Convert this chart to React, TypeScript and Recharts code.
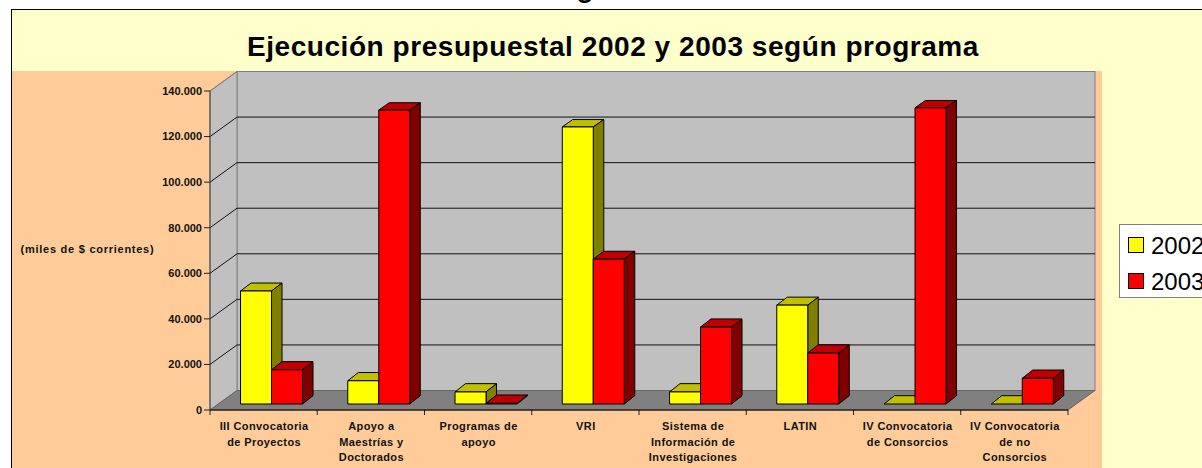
import React from 'react';
import { BarChart, Bar, XAxis, YAxis, CartesianGrid, Legend, usePlotArea } from 'recharts';

const categories = [
  'III Convocatoria de Proyectos',
  'Apoyo a Maestrías y Doctorados',
  'Programas de apoyo',
  'VRI',
  'Sistema de Información de Investigaciones',
  'LATIN',
  'IV Convocatoria de Consorcios',
  'IV Convocatoria de no Consorcios',
];
const categoryLines = [
  ['III Convocatoria', 'de Proyectos'],
  ['Apoyo a', 'Maestrías y', 'Doctorados'],
  ['Programas de', 'apoyo'],
  ['VRI'],
  ['Sistema de', 'Información de', 'Investigaciones'],
  ['LATIN'],
  ['IV Convocatoria', 'de Consorcios'],
  ['IV Convocatoria', 'de no', 'Consorcios'],
];
const series2002 = [49600, 10200, 5300, 121600, 5300, 43400, 0, 0];
const series2003 = [15000, 129000, 300, 63600, 33800, 22400, 130000, 11300];
const yTicks = [0, 20000, 40000, 60000, 80000, 100000, 120000, 140000];
const data = categories.map((name, i) => ({ name, a: series2002[i], b: series2003[i] }));

const FONT = '"Liberation Sans", Arial, sans-serif';
const WALL_DX = 27;
const WALL_DY = 19.5;
const BAR_OFF_X = 8;
const BAR_OFF_Y = 6;
const BAR_DX = 10.5;
const depthAt = (py: number) => 7.3 + (py - 100) / 300;
const SHADES: Record<string, { top: string; side: string }> = {
  '#FFFF00': { top: '#C0C000', side: '#808000' },
  '#FF0000': { top: '#C00000', side: '#800000' },
};

function Bar3D(props: any) {
  const { x, y, width, height, fill } = props;
  const l = x + BAR_OFF_X;
  const t = y - BAR_OFF_Y;
  const r = l + width;
  const b = t + height;
  const dt = depthAt(t);
  const db = depthAt(b);
  const s = SHADES[fill];
  const common = { stroke: '#000', strokeWidth: 1, strokeLinejoin: 'round' as const };
  return (
    <g>
      <polygon points={`${l},${t} ${l + BAR_DX},${t - dt} ${r + BAR_DX},${t - dt} ${r},${t}`} fill={s.top} {...common} />
      <polygon points={`${r},${t} ${r + BAR_DX},${t - dt} ${r + BAR_DX},${b - db} ${r},${b}`} fill={s.side} {...common} />
      <rect x={l} y={t} width={width} height={height} fill={fill} {...common} />
    </g>
  );
}

function Walls() {
  const p = usePlotArea();
  if (!p) return null;
  const { x, y, width, height } = p;
  const b = y + height;
  const r = x + width;
  return (
    <g>
      <rect x={x + WALL_DX} y={y - WALL_DY} width={width} height={height} fill="#C0C0C0" stroke="#808080" strokeWidth={1} />
      <polygon points={`${x},${b} ${x + WALL_DX},${b - WALL_DY} ${x + WALL_DX},${y - WALL_DY} ${x},${y}`} fill="#C0C0C0" stroke="#808080" strokeWidth={1} />
      <polygon points={`${x},${b} ${x + WALL_DX},${b - WALL_DY} ${r + WALL_DX},${b - WALL_DY} ${r},${b}`} fill="#808080" stroke="#666" strokeWidth={1} />
    </g>
  );
}

function Captions() {
  const p = usePlotArea();
  if (!p) return null;
  const band = p.width / categories.length;
  const b = p.y + p.height;
  return (
    <g>
      {[...categories, ''].map((_, i) => (
        <line key={i} x1={p.x + i * band} x2={p.x + i * band} y1={b} y2={b + 5} stroke="#222" strokeWidth={1} />
      ))}
      <text x={613} y={55.5} textAnchor="middle" fontFamily={FONT} fontWeight="bold" fontSize={28} letterSpacing={0.55} fill="#000">
        Ejecución presupuestal 2002 y 2003 según programa
      </text>
      <text x={87.5} y={253} textAnchor="middle" fontFamily={FONT} fontWeight="bold" fontSize={11} letterSpacing={0.74} fill="#111">
        (miles de $ corrientes)
      </text>
      <text x={585} y={-3} textAnchor="middle" fontFamily={FONT} fontWeight="bold" fontSize={28} fill="#000">
        g
      </text>
    </g>
  );
}

function GridLine(props: any) {
  const { x1, x2, y1, index } = props;
  if (y1 > 400) return null;
  const top = y1 < 100;
  const stroke = top ? '#808080' : '#111';
  return (
    <g key={index}>
      <polyline points={`${x1},${y1} ${x1 + WALL_DX},${y1 - WALL_DY} ${x2 + WALL_DX},${y1 - WALL_DY}`} fill="none" stroke={stroke} strokeWidth={1} />
    </g>
  );
}

function XTick(props: any) {
  const { x, payload, index } = props;
  const lines = categoryLines[payload.index ?? index] ?? [];
  return (
    <text textAnchor="middle" fontFamily={FONT} fontWeight="bold" fontSize={11} letterSpacing={0.4} fill="#111">
      {lines.map((l: string, i: number) => (
        <tspan key={i} x={x + 0.5} y={430 + i * 15.5}>{l}</tspan>
      ))}
    </text>
  );
}

function LegendBox(props: any) {
  const items = props.payload || [];
  return (
    <div style={{ width: 120, height: 74, boxSizing: 'border-box', background: '#fff', border: '1px solid #808080', position: 'relative', fontFamily: FONT, fontSize: 24, color: '#000', lineHeight: '24px' }}>
      {items.map((it: any, i: number) => (
        <div key={i} style={{ position: 'absolute', left: 8, top: 7.5 + i * 36.7, display: 'flex', alignItems: 'center' }}>
          <span style={{ display: 'block', width: 14, height: 14, background: it.color, border: '1px solid #000', marginRight: 7 }} />
          <span style={{ position: 'relative', top: 1 }}>{it.value}</span>
        </div>
      ))}
    </div>
  );
}

export default function App() {
  return (
    <div style={{ position: 'fixed', left: 0, top: 0, width: 1202, height: 468, overflow: 'hidden', background: '#fff' }}>
      <div style={{ position: 'absolute', left: 11, top: 9, width: 1191, height: 459, boxSizing: 'border-box', borderLeft: '1px solid #000', borderTop: '1px solid #000', background: '#FFFFCC' }} />
      <div style={{ position: 'absolute', left: 12, top: 71, width: 1090, height: 397, background: '#FFCC99' }} />
      <div style={{ position: 'absolute', left: 0, top: 0 }}>
        <BarChart
          width={1202}
          height={468}
          data={data}
          margin={{ top: 91, right: 134, bottom: 0, left: 0 }}
          barCategoryGap="21%"
          barGap={0}
          style={{ overflow: 'visible' }}
        >
          <Walls />
          <CartesianGrid vertical={false} horizontal={GridLine as any} {...({ zIndex: 50 } as any)} />
          <XAxis dataKey="name" height={58} interval={0} axisLine={{ stroke: '#000', strokeWidth: 1 }} tickLine={false} tick={XTick as any} />
          <YAxis
            width={210}
            domain={[0, 140000]}
            ticks={yTicks}
            interval={0}
            tickSize={6}
            tickMargin={2}
            axisLine={{ stroke: '#444', strokeWidth: 1 }}
            tickLine={{ stroke: '#222', strokeWidth: 1 }}
            tickFormatter={(v: number) => v.toLocaleString('de-DE')}
            tick={{ fontFamily: FONT, fontWeight: 'bold', fontSize: 11, fill: '#111' }}
          />
          <Bar dataKey="a" name="2002" fill="#FFFF00" isAnimationActive={false} shape={Bar3D as any} />
          <Bar dataKey="b" name="2003" fill="#FF0000" isAnimationActive={false} shape={Bar3D as any} />
          <Captions />
          <Legend
            layout="horizontal"
            align="center"
            verticalAlign="middle"
            content={LegendBox as any}
            wrapperStyle={{ position: 'absolute', left: 1119, top: 224, width: 120, height: 74 }}
          />
        </BarChart>
      </div>
    </div>
  );
}
